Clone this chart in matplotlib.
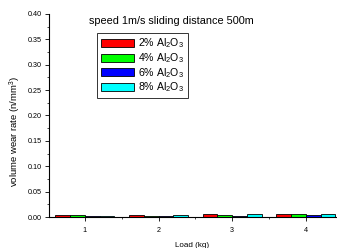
import matplotlib
matplotlib.use("Agg")
import matplotlib.pyplot as plt
import numpy as np
from matplotlib.ticker import MultipleLocator

plt.rcParams["font.family"] = ["Liberation Sans", "DejaVu Sans"]
plt.rcParams["mathtext.fontset"] = "custom"
plt.rcParams["mathtext.rm"] = "Liberation Sans"
plt.rcParams["mathtext.it"] = "Liberation Sans:italic"

loads = [1, 2, 3, 4]
series_labels = ["2% Al$_2$O$_3$", "4% Al$_2$O$_3$", "6% Al$_2$O$_3$", "8% Al$_2$O$_3$"]
wear_2 = [0.003, 0.003, 0.005, 0.005]
wear_4 = [0.004, 0.002, 0.003, 0.005]
wear_6 = [0.001, 0.001, 0.002, 0.003]
wear_8 = [0.001, 0.004, 0.005, 0.006]
colors = ["#ff0000", "#00ff00", "#0000ff", "#00ffff"]

fig = plt.figure(figsize=(3.37, 2.48), dpi=100)
ax = fig.add_axes([0.145, 0.125, 0.852, 0.819])

x = np.array(loads, dtype=float)
w = 0.2
for i, (vals, c, lab) in enumerate(zip([wear_2, wear_4, wear_6, wear_8], colors, series_labels)):
    ax.bar(x - 0.4 + i * w, vals, width=w, align="edge", color=c,
           edgecolor="black", linewidth=0.6, label=lab)

ax.set_xlim(0.51, 4.41)
ax.set_ylim(0, 0.40)
ax.set_xticks(loads)
ax.xaxis.set_minor_locator(MultipleLocator(0.5))
ax.yaxis.set_minor_locator(MultipleLocator(0.025))
ax.set_yticks(np.arange(0, 0.401, 0.05))
ax.set_yticklabels([f"{v:.2f}" for v in np.arange(0, 0.401, 0.05)])
ax.tick_params(axis="both", which="major", labelsize=5.2, length=3, width=0.6, direction="out", pad=2)
ax.tick_params(axis="x", which="major", pad=4)
ax.tick_params(axis="both", which="minor", length=1.5, width=0.5, direction="out")
for s in ["top", "right"]:
    ax.spines[s].set_visible(False)
for s in ["left", "bottom"]:
    ax.spines[s].set_linewidth(0.8)

ax.set_xlabel("Load (kg)", fontsize=5.8, labelpad=6)
ax.set_ylabel("volume wear rate (n/mm$^3$)", fontsize=6.8)
ax.yaxis.set_label_coords(-0.09, 0.42)
ax.text(0.425, 0.966, "speed 1m/s sliding distance 500m", transform=ax.transAxes,
        ha="center", va="center", fontsize=7.8)

leg = ax.legend(loc="upper left", bbox_to_anchor=(0.167, 0.906), fontsize=7.6,
                frameon=True, fancybox=False, handlelength=3.2, handleheight=0.8,
                handletextpad=0.35, labelspacing=0.08, borderpad=0.35, borderaxespad=0)
leg.get_frame().set_edgecolor("black")
leg.get_frame().set_linewidth(0.7)

fig.savefig("out.png", dpi=100)
